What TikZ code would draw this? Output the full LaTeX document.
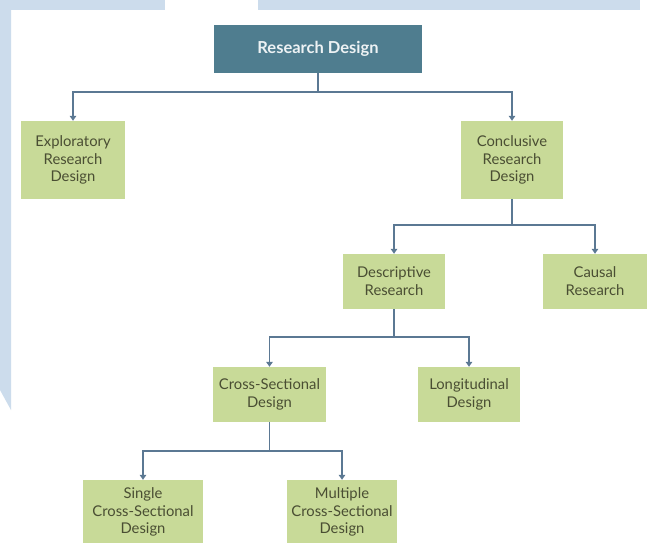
\documentclass[tikz,border=0pt]{standalone}
\usepackage{fontspec}
\setmainfont{Lato}
\usetikzlibrary{arrows.meta}
\definecolor{bandblue}{HTML}{CCDCEC}
\definecolor{rootfill}{HTML}{4F7D8F}
\definecolor{boxfill}{HTML}{C8DA98}
\definecolor{boxtext}{HTML}{4A4E33}
\definecolor{linecol}{HTML}{5B7893}
\tikzset{
  leaf/.style={fill=boxfill, draw=none, align=center, text=boxtext, font=\fontsize{14.8}{17.8}\selectfont, inner sep=0pt},
  rootbox/.style={fill=rootfill, draw=none, align=center, text=white!90!rootfill, font=\fontsize{16.5}{19}\selectfont\bfseries, inner sep=0pt},
  conn/.style={draw=linecol, line width=1.9pt},
  arr/.style={conn, -{Triangle[width=6.5pt,length=5pt]}}
}
\begin{document}
\begin{tikzpicture}[x=1pt,y=-1pt]
\useasboundingbox (0,0) rectangle (650,543);
\fill[white] (0,0) rectangle (650,543);
% background bands
\fill[bandblue] (0,0) rectangle (165,10);
\fill[bandblue] (258,0) rectangle (640,10);
\fill[bandblue] (0,0) -- (11,0) -- (11,410) -- (0,390) -- cycle;
% nodes
\node[rootbox, minimum width=208pt, minimum height=48pt] (root) at (318,49) {Research Design};
\node[leaf, minimum width=104pt, minimum height=78pt] (expl) at (73,160) {Exploratory\\Research\\Design};
\node[leaf, minimum width=102pt, minimum height=78pt] (concl) at (512,160) {Conclusive\\Research\\Design};
\node[leaf, minimum width=102pt, minimum height=55pt] (desc) at (394,281.5) {Descriptive\\Research};
\node[leaf, minimum width=104pt, minimum height=55pt] (caus) at (595,281.5) {Causal\\Research};
\node[leaf, minimum width=113pt, minimum height=55pt] (cross) at (269.5,394.5) {Cross-Sectional\\Design};
\node[leaf, minimum width=102pt, minimum height=55pt] (longi) at (469,394.5) {Longitudinal\\Design};
\node[leaf, minimum width=120pt, minimum height=64pt] (single) at (143,512) {Single\\Cross-Sectional\\Design};
\node[leaf, minimum width=110pt, minimum height=64pt] (multi) at (342,512) {Multiple\\Cross-Sectional\\Design};
% junctions
\coordinate (j1) at (318,92);
\coordinate (j2) at (512,225);
\coordinate (j3) at (394,337);
\coordinate (j4) at (269.5,451);
% connectors
\draw[conn] (root.south) -- (j1);
\draw[arr] (j1) -| (expl.north);
\draw[arr] (j1) -| (concl.north);
\draw[conn] (concl.south) -- (j2);
\draw[arr] (j2) -| (desc.north);
\draw[arr] (j2) -| (caus.north);
\draw[conn] (desc.south) -- (j3);
\draw[arr] (j3) -| (cross.north);
\draw[arr] (j3) -| (longi.north);
\draw[conn] (cross.south) -- (j4);
\draw[arr] (j4) -| (single.north);
\draw[arr] (j4) -| (multi.north);
\end{tikzpicture}
\end{document}
